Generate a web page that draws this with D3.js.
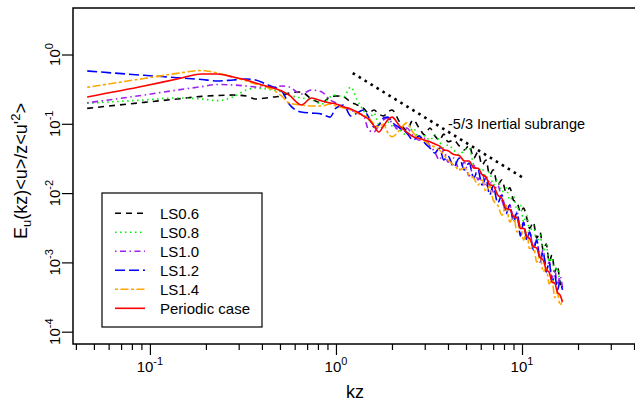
<!DOCTYPE html>
<html>
<head>
<meta charset="utf-8">
<script src="https://cdn.jsdelivr.net/npm/d3@7"></script>
<style>
    body { margin: 0; background: #fff; }
    svg { display: block; font-family: "Liberation Sans", Arial, Helvetica, sans-serif; }
</style>
</head>
<body>
<svg id="drawing_region"></svg>
<script>
// wavenumber grid (kz) shared by all runs
const kz = [0.046, 0.093, 0.14, 0.19, 0.23, 0.28, 0.33, 0.37, 0.42, 0.46, 0.51, 0.56, 0.65, 0.74, 0.84, 0.93,
    1.0, 1.1, 1.2, 1.3, 1.4, 1.5, 1.6, 1.7, 1.8, 1.9, 2.0, 2.2, 2.4, 2.6, 2.8, 3.0, 3.2, 3.4, 3.6, 3.8,
    4.0, 4.3, 4.6, 4.9, 5.2, 5.5, 5.8, 6.1, 6.4, 6.7, 7.0, 7.4, 7.8, 8.2, 8.6, 9.0, 9.4, 9.8,
    10.2, 10.6, 11.0, 11.5, 12.0, 12.5, 13.0, 13.5, 14.0, 14.5, 15.0, 15.5, 16.0, 16.5];

const ls06 = [0.167, 0.204, 0.228, 0.249, 0.256, 0.260, 0.252, 0.228, 0.236, 0.244, 0.252, 0.278, 0.288, 0.228, 0.200, 0.244,
    0.252, 0.244, 0.206, 0.187, 0.169, 0.143, 0.158, 0.138, 0.130, 0.148, 0.158, 0.106, 0.081, 0.114, 0.087, 0.069, 0.087, 0.067, 0.058, 0.071,
    0.055, 0.058, 0.048, 0.042, 0.049, 0.032, 0.039, 0.0254, 0.0300, 0.0182, 0.0216, 0.0131, 0.0155, 0.0104, 0.0119, 0.0079, 0.0074, 0.0053,
    0.0061, 0.0044, 0.0031, 0.0038, 0.00225, 0.00275, 0.00151, 0.00184, 0.00101, 0.00128, 0.00073, 0.00089, 0.00052, 0.00043];

const ls08 = [0.198, 0.221, 0.236, 0.228, 0.216, 0.244, 0.307, 0.329, 0.318, 0.307, 0.288, 0.260, 0.236, 0.221, 0.193, 0.244,
    0.260, 0.244, 0.340, 0.221, 0.158, 0.114, 0.143, 0.096, 0.087, 0.106, 0.093, 0.081, 0.069, 0.087, 0.062, 0.067, 0.058, 0.069, 0.055, 0.0448,
    0.0494, 0.0419, 0.0355, 0.0419, 0.0448, 0.0254, 0.0216, 0.0230, 0.0165, 0.0201, 0.0131, 0.0155, 0.0104, 0.0119, 0.0079, 0.0091, 0.0057, 0.0067,
    0.0038, 0.0048, 0.00275, 0.00347, 0.00197, 0.00248, 0.00141, 0.00178, 0.00101, 0.00116, 0.00073, 0.00083, 0.00052, 0.00047];

const ls10 = [0.201, 0.260, 0.307, 0.344, 0.369, 0.363, 0.351, 0.340, 0.340, 0.340, 0.351, 0.340, 0.269, 0.307, 0.288, 0.221,
    0.200, 0.175, 0.158, 0.143, 0.134, 0.081, 0.076, 0.096, 0.114, 0.121, 0.103, 0.081, 0.087, 0.067, 0.058, 0.062, 0.048, 0.039, 0.030, 0.042,
    0.028, 0.032, 0.0216, 0.028, 0.0177, 0.0254, 0.0155, 0.0201, 0.0122, 0.0155, 0.0104, 0.0131, 0.0079, 0.0057, 0.0067, 0.0044, 0.0053, 0.0031,
    0.0038, 0.00225, 0.00275, 0.00161, 0.0021, 0.00116, 0.00151, 0.00083, 0.00101, 0.00060, 0.00078, 0.00047, 0.00064, 0.00043];

const ls12 = [0.578, 0.501, 0.463, 0.436, 0.415, 0.429, 0.443, 0.429, 0.375, 0.340, 0.297, 0.193, 0.148, 0.143, 0.138, 0.125,
    0.169, 0.187, 0.130, 0.143, 0.158, 0.125, 0.090, 0.096, 0.121, 0.125, 0.106, 0.087, 0.074, 0.058, 0.067, 0.053, 0.0448, 0.0379, 0.0448, 0.0300,
    0.0343, 0.0238, 0.0321, 0.0216, 0.0272, 0.0165, 0.0216, 0.0131, 0.0165, 0.0094, 0.0127, 0.0072, 0.0094, 0.0050, 0.0067, 0.0038, 0.0053, 0.0024,
    0.0038, 0.0021, 0.00275, 0.00151, 0.0021, 0.00101, 0.00141, 0.00073, 0.00101, 0.00052, 0.00066, 0.00040, 0.00052, 0.00040];

const ls14 = [0.336, 0.451, 0.534, 0.588, 0.541, 0.473, 0.415, 0.375, 0.340, 0.308, 0.252, 0.200, 0.187, 0.181, 0.181, 0.193,
    0.181, 0.169, 0.158, 0.143, 0.134, 0.121, 0.099, 0.090, 0.099, 0.074, 0.065, 0.081, 0.103, 0.074, 0.062, 0.0565, 0.0494, 0.0462, 0.0419, 0.0355,
    0.0300, 0.0254, 0.0216, 0.0230, 0.0182, 0.0165, 0.0131, 0.0155, 0.0104, 0.0127, 0.0079, 0.0067, 0.0048, 0.0067, 0.0038, 0.0048, 0.00275, 0.00347,
    0.0021, 0.00275, 0.00151, 0.00178, 0.00101, 0.00128, 0.00073, 0.00083, 0.00049, 0.00056, 0.00031, 0.00037, 0.00024, 0.00029];

const periodic = [0.244, 0.351, 0.443, 0.523, 0.523, 0.473, 0.429, 0.388, 0.351, 0.329, 0.297, 0.260, 0.187, 0.236, 0.213, 0.200,
    0.193, 0.175, 0.164, 0.148, 0.130, 0.117, 0.093, 0.076, 0.093, 0.114, 0.125, 0.093, 0.076, 0.065, 0.062, 0.058, 0.055, 0.051, 0.048, 0.042,
    0.041, 0.036, 0.035, 0.029, 0.029, 0.023, 0.0228, 0.0185, 0.0172, 0.0132, 0.0128, 0.0094, 0.0084, 0.0060, 0.0058, 0.0046, 0.0044, 0.0031,
    0.0031, 0.0024, 0.0022, 0.00170, 0.00160, 0.00118, 0.00108, 0.00078, 0.00072, 0.00052, 0.00050, 0.00037, 0.00034, 0.00027];

const seriesNames = ['LS0.6', 'LS0.8', 'LS1.0', 'LS1.2', 'LS1.4', 'Periodic case'];
const seriesValues = [ls06, ls08, ls10, ls12, ls14, periodic];
const seriesColors = ['#000000', '#00ee00', '#a020f0', '#0000ff', '#ffa500', '#ff0000'];
const seriesDash = ['6,5', '1.5,3.5', '1.5,3.5,6,3.5', '10,4', '3,2.5,8,2.5', null];

// -5/3 reference line end points
const slopeKz = [1.23, 10];
const slopeE = [0.54, 0.017];
const slopeLabel = '-5/3 Inertial subrange';

const xMajor = [0.1, 1, 10];
const xMajorExp = ['-1', '0', '1'];
const xMinor = [0.04, 0.05, 0.06, 0.07, 0.08, 0.09, 0.2, 0.3, 0.4, 0.5, 0.6, 0.7, 0.8, 0.9,
    2, 3, 4, 5, 6, 7, 8, 9, 20, 30, 40];
const yMajor = [1, 0.1, 0.01, 0.001, 0.0001];
const yMajorExp = ['0', '-1', '-2', '-3', '-4'];

const config = {
    width: 635,
    height: 403,
    margin: {top: 8, left: 73},
    inner_width: 564,
    inner_height: 336
};

const svg = d3.select('#drawing_region')
    .attr('width', config.width)
    .attr('height', config.height);

const plotLeft = config.margin.left, plotTop = config.margin.top;
const plotRight = plotLeft + config.inner_width, plotBottom = plotTop + config.inner_height;

const xscale = d3.scaleLog().domain([0.0386, 41.5]).range([plotLeft, plotRight]);
const yscale = d3.scaleLog().domain([6.64e-5, 4.69]).range([plotBottom, plotTop]);

// series
const line = d3.line()
    .x(d => xscale(d[0]))
    .y(d => yscale(d[1]))
    .curve(d3.curveMonotoneX);

seriesValues.forEach((vals, i) => {
    const pts = kz.map((k, j) => [k, vals[j]]);
    svg.append('path')
        .datum(pts)
        .attr('d', line)
        .attr('fill', 'none')
        .attr('stroke', seriesColors[i])
        .attr('stroke-width', 1.6)
        .attr('stroke-dasharray', seriesDash[i]);
});

// -5/3 slope
svg.append('line')
    .attr('x1', xscale(slopeKz[0])).attr('y1', yscale(slopeE[0]))
    .attr('x2', xscale(slopeKz[1])).attr('y2', yscale(slopeE[1]))
    .attr('stroke', '#000')
    .attr('stroke-width', 2.6)
    .attr('stroke-dasharray', '2.6,4.4');

svg.append('text')
    .attr('x', 448).attr('y', 128.5)
    .attr('font-size', 14.5)
    .text(slopeLabel);

// box
svg.append('rect')
    .attr('x', plotLeft).attr('y', plotTop)
    .attr('width', config.inner_width).attr('height', config.inner_height)
    .attr('fill', 'none').attr('stroke', '#000').attr('stroke-width', 1.5);

// x axis
const xaxis_major = d3.axisBottom(xscale).tickValues(xMajor).tickSize(11).tickFormat('');
const xaxis_minor = d3.axisBottom(xscale).tickValues(xMinor).tickSize(6).tickFormat('');
[xaxis_major, xaxis_minor].forEach(ax => {
    const g = svg.append('g').attr('transform', `translate(0, ${plotBottom})`).call(ax);
    g.select('.domain').remove();
    g.selectAll('line').attr('stroke-width', 1.2);
});

xMajor.forEach((v, i) => {
    const t = svg.append('text')
        .attr('x', xscale(v)).attr('y', 372)
        .attr('text-anchor', 'middle')
        .attr('font-size', 15);
    t.append('tspan').text('10');
    t.append('tspan').attr('dy', -7).attr('font-size', 11).text(xMajorExp[i]);
});

svg.append('text')
    .attr('x', (plotLeft + plotRight) / 2).attr('y', 398)
    .attr('text-anchor', 'middle')
    .attr('font-size', 18)
    .text('kz');

// y axis
const yaxis = d3.axisLeft(yscale).tickValues(yMajor).tickSize(11).tickFormat('');
const yg = svg.append('g').attr('transform', `translate(${plotLeft}, 0)`).call(yaxis);
yg.select('.domain').remove();
yg.selectAll('line').attr('stroke-width', 1.2);

yMajor.forEach((v, i) => {
    const t = svg.append('text')
        .attr('transform', `translate(60, ${yscale(v)}) rotate(-90)`)
        .attr('text-anchor', 'middle')
        .attr('font-size', 15);
    t.append('tspan').text('10');
    t.append('tspan').attr('dy', -7).attr('font-size', 11).text(yMajorExp[i]);
});

const ylab = svg.append('text')
    .attr('transform', `translate(27, ${(plotTop + plotBottom) / 2 - 5}) rotate(-90)`)
    .attr('text-anchor', 'middle')
    .attr('font-size', 18);
ylab.append('tspan').text('E');
ylab.append('tspan').attr('dy', 4).attr('font-size', 13).text('u');
ylab.append('tspan').attr('dy', -4).text("(kz)<u>/z<u'");
ylab.append('tspan').attr('dy', -7).attr('font-size', 13).text('2');
ylab.append('tspan').attr('dy', 7).text('>');

// legend
const legend = svg.append('g');
legend.append('rect')
    .attr('x', 102).attr('y', 193)
    .attr('width', 160).attr('height', 134)
    .attr('fill', '#fff').attr('stroke', '#000').attr('stroke-width', 1.2);

seriesNames.forEach((name, i) => {
    const y = 213.3 + 19 * i;
    legend.append('line')
        .attr('x1', 115).attr('x2', 145)
        .attr('y1', y).attr('y2', y)
        .attr('stroke', seriesColors[i])
        .attr('stroke-width', 1.6)
        .attr('stroke-dasharray', seriesDash[i]);
    legend.append('text')
        .attr('x', 160).attr('y', y)
        .attr('dy', '0.36em')
        .attr('font-size', 15)
        .text(name);
});
</script>
</body>
</html>
